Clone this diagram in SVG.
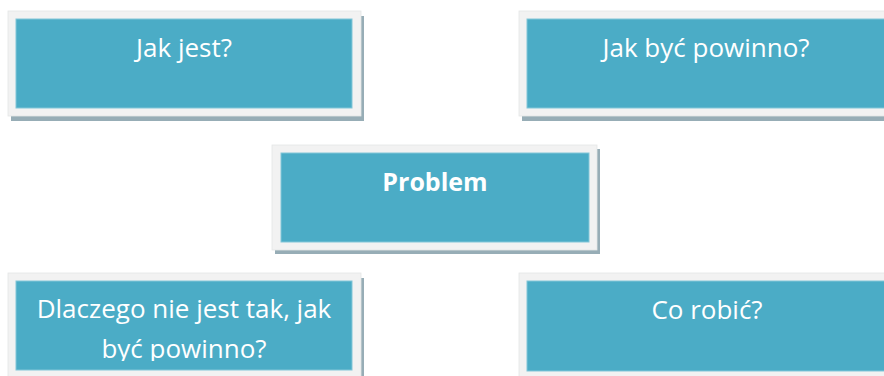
<svg xmlns="http://www.w3.org/2000/svg" width="884" height="376" viewBox="0 0 884 376">
<style>
.sh{fill:#97adb6}
.fr{fill:#f2f2f2;stroke:#e4e6e7;stroke-width:0.8}
.tl{fill:#4bacc6;stroke:#82c6d8;stroke-width:1}
.tx{font-family:"Open Sans","Noto Sans",sans-serif;font-size:26px;fill:#ffffff;text-anchor:middle}
.bd{font-weight:bold;font-size:25px}
</style>
<defs>
<clipPath id="clipDl"><rect x="16" y="281" width="336" height="80"/></clipPath>
</defs>
<rect width="884" height="376" fill="#ffffff"/>
<g id="node-jak-jest">
<rect class="sh" x="11" y="16" width="353" height="105"/>
<rect class="fr" x="8" y="11" width="353" height="105"/>
<rect class="tl" x="16" y="19" width="336" height="89"/>
<text class="tx" x="184" y="57">Jak jest?</text>
</g>
<g id="node-jak-byc">
<rect class="sh" x="522" y="16" width="370" height="105"/>
<rect class="fr" x="519" y="11" width="370" height="105"/>
<rect class="tl" x="527" y="19" width="362" height="89"/>
<text class="tx" x="706" y="57">Jak być powinno?</text>
</g>
<g id="node-problem">
<rect class="sh" x="275" y="149" width="325" height="105"/>
<rect class="fr" x="272" y="145" width="325" height="105"/>
<rect class="tl" x="281" y="153" width="308" height="89"/>
<text class="tx bd" x="435" y="191">Problem</text>
</g>
<g id="node-dlaczego">
<rect class="sh" x="11" y="278" width="353" height="105"/>
<rect class="fr" x="8" y="273" width="353" height="105"/>
<rect class="tl" x="16" y="281" width="336" height="89"/>
<g clip-path="url(#clipDl)">
<text class="tx" x="184" y="318">Dlaczego nie jest tak, jak</text>
<text class="tx" x="184" y="358">być powinno?</text>
</g>
</g>
<g id="node-co-robic">
<rect class="sh" x="522" y="278" width="370" height="105"/>
<rect class="fr" x="519" y="273" width="370" height="105"/>
<rect class="tl" x="527" y="281" width="362" height="90"/>
<text class="tx" x="707" y="319">Co robić?</text>
</g>
<g id="connectors"></g>
</svg>
